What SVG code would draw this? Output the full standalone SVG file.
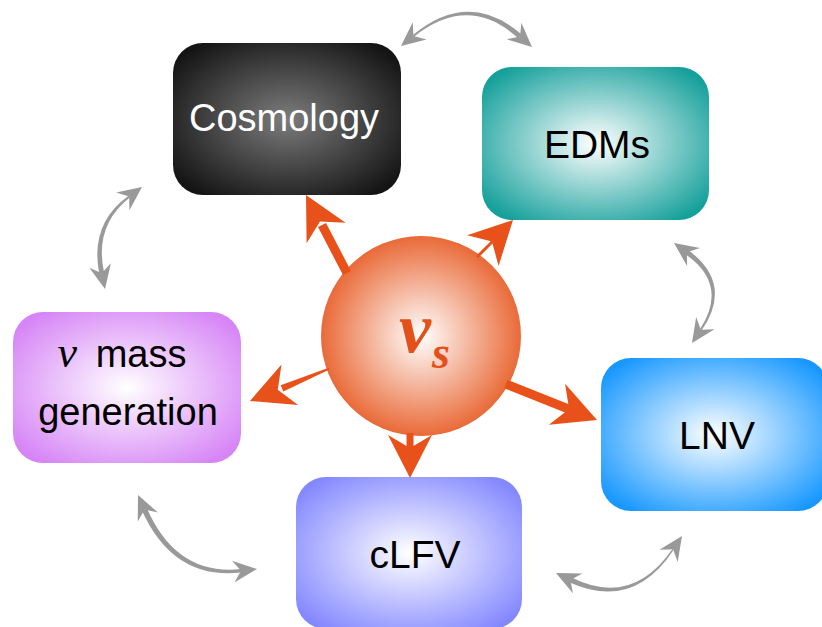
<svg xmlns="http://www.w3.org/2000/svg" width="822" height="627" viewBox="0 0 822 627">
<style>
.lbl{font-family:"Liberation Sans","DejaVu Sans",sans-serif;font-size:39px;text-anchor:middle;fill:#000}
.gray{fill:#999}
.or{fill:#E8521A}
.os{stroke:#E8521A;fill:none}
</style>
<defs>
<radialGradient id="gCos" cx="0.5" cy="0.5" r="0.62"><stop offset="0" stop-color="#7c7c7c"/><stop offset="1" stop-color="#141414"/></radialGradient>
<radialGradient id="gEdm" cx="0.5" cy="0.5" r="0.62"><stop offset="0" stop-color="#ffffff"/><stop offset="1" stop-color="#16a09b"/></radialGradient>
<radialGradient id="gLnv" cx="0.5" cy="0.5" r="0.62"><stop offset="0" stop-color="#ffffff"/><stop offset="1" stop-color="#1898ff"/></radialGradient>
<radialGradient id="gClf" cx="0.5" cy="0.5" r="0.62"><stop offset="0" stop-color="#ffffff"/><stop offset="1" stop-color="#8488ff"/></radialGradient>
<radialGradient id="gNum" cx="0.5" cy="0.5" r="0.62"><stop offset="0" stop-color="#ffffff"/><stop offset="1" stop-color="#d684f6"/></radialGradient>
<radialGradient id="gNus" cx="0.5" cy="0.5" r="0.5"><stop offset="0" stop-color="#ffffff"/><stop offset="1" stop-color="#e96a38"/></radialGradient>
<path id="gh" d="M0,0 L-24,-11 L-16,0 L-24,11 Z"/>
<path id="oh" d="M0,0 L-43,-22 L-30,0 L-43,22 Z"/>
</defs>

<g id="cosmology">
<rect x="173" y="43" width="228" height="152" rx="30" fill="url(#gCos)"/>
<text class="lbl" x="284" y="131" style="fill:#fff;font-size:38px">Cosmology</text>
</g>
<g id="edms">
<rect x="482" y="67" width="227" height="153" rx="30" fill="url(#gEdm)"/>
<text class="lbl" x="597" y="158">EDMs</text>
</g>
<g id="lnv">
<rect x="601" y="358" width="227" height="153" rx="30" fill="url(#gLnv)"/>
<text class="lbl" x="717" y="449">LNV</text>
</g>
<g id="clfv">
<rect x="296" y="477" width="226" height="152" rx="30" fill="url(#gClf)"/>
<text class="lbl" x="415" y="568">cLFV</text>
</g>
<g id="numass">
<rect x="13" y="312" width="228" height="151" rx="30" fill="url(#gNum)"/>
<text class="lbl" x="122" y="367" style="font-size:38px"><tspan font-family="'Liberation Serif',serif" font-style="italic" font-size="44">ν</tspan> <tspan dx="8">mass</tspan></text>
<text class="lbl" x="128" y="425" style="font-size:38px">generation</text>
</g>
<g id="nus">
<circle cx="421" cy="336" r="100" fill="url(#gNus)"/>
<text x="399" y="352" font-family="'Liberation Serif',serif" font-style="italic" font-weight="bold" font-size="72" fill="#E4501A">ν</text>
<text x="432" y="368" font-family="'Liberation Serif',serif" font-style="italic" font-weight="bold" font-size="46" fill="#E4501A">s</text>
</g>

<g id="connectors">
<line class="os" x1="347" y1="273" x2="322" y2="225" stroke-width="9"/>
<use href="#oh" class="or" transform="translate(306,195) rotate(-117.8)"/>
<line class="os" x1="477" y1="257" x2="495" y2="239" stroke-width="3"/>
<use href="#oh" class="or" transform="translate(513,220) rotate(-45.5)"/>
<polygon class="or" points="328.6,367.7 329.4,369.5 283.3,391.6 280.7,385.2"/>
<use href="#oh" class="or" transform="translate(250,401) rotate(157.8)"/>
<line class="os" x1="506" y1="384" x2="571" y2="410" stroke-width="9"/>
<use href="#oh" class="or" transform="translate(597,420) rotate(21.5)"/>
<line class="os" x1="410" y1="433" x2="410" y2="452" stroke-width="7"/>
<use href="#oh" class="or" transform="translate(410,478) rotate(90)"/>

<path class="gray" d="M412.8,35.1 Q468.9,-11.4 521.7,34.5 L518.3,38.3 Q468.9,-6.8 414.0,36.7 Z"/>
<use href="#gh" class="gray" transform="translate(401,46) rotate(141)"/>
<use href="#gh" class="gray" transform="translate(532,47) rotate(41.6)"/>

<path class="gray" d="M128.6,195.8 Q89.4,224.0 99.3,273.8 L104.1,272.8 Q93.8,225.6 129.8,197.4 Z"/>
<use href="#gh" class="gray" transform="translate(142,187) rotate(-36.9)"/>
<use href="#gh" class="gray" transform="translate(105,289) rotate(78.2)"/>

<path class="gray" d="M685.5,254.3 Q729.0,284.5 700.1,329.1 L701.7,330.3 Q733.6,283.7 688.5,250.3 Z"/>
<use href="#gh" class="gray" transform="translate(674,243) rotate(-144.3)"/>
<use href="#gh" class="gray" transform="translate(692,343) rotate(123.7)"/>

<path class="gray" d="M142.0,510.7 Q173.7,580.3 241.3,572.5 L240.9,569.1 Q176.5,575.9 147.0,508.5 Z"/>
<use href="#gh" class="gray" transform="translate(138,495) rotate(-114.1)"/>
<use href="#gh" class="gray" transform="translate(257,569) rotate(-6.3)"/>

<path class="gray" d="M569.3,582.2 Q633.0,611.4 673.7,549.7 L672.5,548.9 Q631.8,607.6 571.5,577.6 Z"/>
<use href="#gh" class="gray" transform="translate(556,573) rotate(-154.5)"/>
<use href="#gh" class="gray" transform="translate(682,536) rotate(-56.0)"/>
</g>
</svg>
